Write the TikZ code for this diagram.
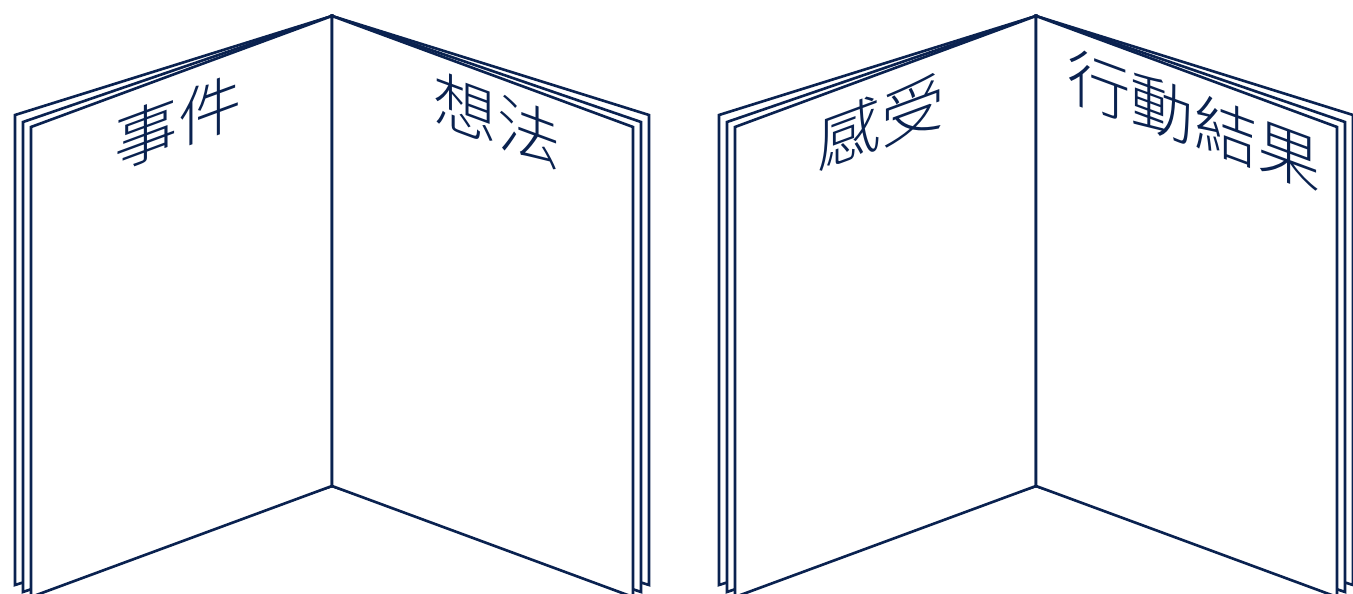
\documentclass[tikz,border=0pt]{standalone}
\usepackage{fontspec}
\IfFontExistsTF{Noto Sans CJK TC Light}
  {\newfontfamily\cjk{Noto Sans CJK TC Light}}
  {\newfontfamily\cjk{Noto Sans CJK TC}}
\definecolor{ink}{RGB}{10,34,80}
\tikzset{
  page/.style={fill=white, draw=ink},
  heading/.style={font=\cjk\fontsize{36}{36}\selectfont, text=ink, inner sep=0pt, transform shape}
}
\begin{document}
\begin{tikzpicture}[x=0.02cm, y=-0.02cm, line width=1.5pt, color=ink]
  \useasboundingbox (0,0) rectangle (1353,594);
  \def\sx{332} \def\top{16} \def\bot{486} % spine
  % two open books, three leaves on each side (back to front)
  \foreach \s in {0,704}{
    \begin{scope}[shift={(\s,0)}]
      \foreach \w/\d in {317/99, 309/106, 301/111}{
        \filldraw[page] (\sx,\top) -- ++(-\w,\d) -- ++(0,470) -- (\sx,\bot) -- cycle;
        \filldraw[page] (\sx,\top) -- ++(\w,\d) -- ++(0,470) -- (\sx,\bot) -- cycle;
      }
      \draw (\sx,\top) -- (\sx,\bot);
    \end{scope}
  }
  % headings, slanted with the pages
  \node[heading, yslant=0.369] (ev) at (178,122) {事件};
  \node[heading, yslant=-0.369] (th) at (497,120) {想法};
  \node[heading, yslant=0.369] (fe) at (881,121) {感受};
  \node[heading, yslant=-0.369] (ac) at (1194,120) {行動結果};
\end{tikzpicture}
\end{document}
